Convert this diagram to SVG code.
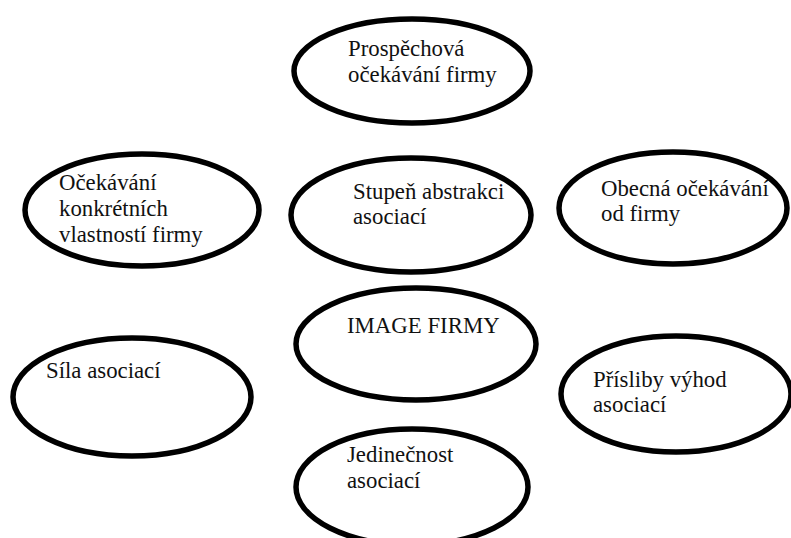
<svg xmlns="http://www.w3.org/2000/svg" width="791" height="538" viewBox="0 0 791 538">
<style>
.n ellipse{fill:#fff;stroke:#000;stroke-width:5.5}
text{font-family:'Liberation Serif','Times New Roman',Times,serif;font-size:22.8px;fill:#111}
</style>
<rect width="791" height="538" fill="#fff"/>
<g id="prospechova" class="n"><ellipse cx="412" cy="71" rx="118" ry="52"/><text x="348" y="56">Prospěchová</text><text x="348" y="82">očekávání firmy</text></g>
<g id="konkretni" class="n"><ellipse cx="142" cy="210" rx="117" ry="56"/><text x="59" y="190">Očekávání</text><text x="59" y="216">konkrétních</text><text x="59" y="242">vlastností firmy</text></g>
<g id="stupen" class="n"><ellipse cx="411" cy="215" rx="120" ry="57"/><text x="353" y="199">Stupeň abstrakci</text><text x="353" y="224">asociací</text></g>
<g id="obecna" class="n"><ellipse cx="673" cy="208" rx="114" ry="56"/><text x="601" y="196">Obecná očekávání</text><text x="601" y="221">od firmy</text></g>
<g id="sila" class="n"><ellipse cx="132" cy="397" rx="119" ry="59"/><text x="46" y="378">Síla asociací</text></g>
<g id="image" class="n"><ellipse cx="416" cy="344" rx="120" ry="56"/><text x="347" y="333">IMAGE FIRMY</text></g>
<g id="prisliby" class="n"><ellipse cx="676" cy="394" rx="115" ry="58"/><text x="593" y="387">Přísliby výhod</text><text x="593" y="412">asociací</text></g>
<g id="jedinecnost" class="n"><ellipse cx="412" cy="487" rx="116" ry="58"/><text x="347" y="462">Jedinečnost</text><text x="347" y="488">asociací</text></g>
<g id="connectors"></g>
</svg>
